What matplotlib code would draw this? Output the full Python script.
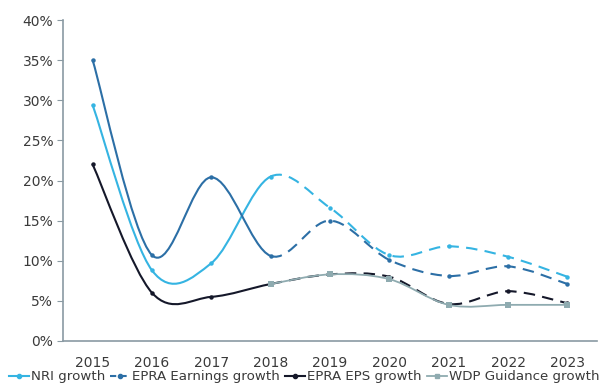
import numpy as np
import matplotlib
matplotlib.use("Agg")
from matplotlib import pyplot as plt
from matplotlib.path import Path
from matplotlib.patches import PathPatch
from matplotlib.lines import Line2D
from matplotlib.ticker import FuncFormatter

years = ["2015", "2016", "2017", "2018", "2019", "2020", "2021", "2022", "2023"]

nri_growth = [29.4, 8.8, 9.7, 20.5, 16.6, 10.7, 11.8, 10.5, 8.0]
epra_earnings_growth = [35.0, 10.7, 20.4, 10.6, 15.0, 10.1, 8.1, 9.3, 7.1]
epra_eps_growth = [22.0, 6.0, 5.5, 7.1, 8.3, 8.0, 4.6, 6.2, 4.7]
wdp_guidance_growth = [7.1, 8.3, 7.7, 4.5, 4.5, 4.5]
wdp_years = years[3:]

# index where the forecast (dashed) part starts
forecast_from = 3

text_col = "#3a3a3a"
axis_col = "#8a9aa3"


def smooth_segments(xs, ys):
    # cubic bezier pieces like a spreadsheet "smoothed line"
    pts = np.column_stack([xs, ys]).astype(float)
    n = len(pts)
    segs = []
    for i in range(n - 1):
        p0 = pts[max(i - 1, 0)]
        p1 = pts[i]
        p2 = pts[i + 1]
        p3 = pts[min(i + 2, n - 1)]
        c1 = p1 + (p2 - p0) / 6.0
        c2 = p2 - (p3 - p1) / 6.0
        segs.append((p1, c1, c2, p2))
    return segs


def path_from(segs):
    verts = [segs[0][0]]
    codes = [Path.MOVETO]
    for _, c1, c2, p2 in segs:
        verts += [c1, c2, p2]
        codes += [Path.CURVE4] * 3
    return Path(verts, codes)


def draw_series(ax, xs, ys, color, lw, split, marker, ms):
    ys = np.asarray(ys) / 100.0
    segs = smooth_segments(xs, ys)
    if split > 0:
        ax.add_patch(PathPatch(path_from(segs[:split]), fill=False,
                               edgecolor=color, lw=lw, capstyle="round"))
    if split < len(segs):
        ax.add_patch(PathPatch(path_from(segs[split:]), fill=False,
                               edgecolor=color, lw=lw, linestyle=(0, (5.5, 3.5))))
    ax.plot(xs, ys, linestyle="none", marker=marker, ms=ms, color=color,
            markeredgewidth=0)


fig = plt.figure(figsize=(6.08, 3.87), dpi=100)
ax = fig.add_axes([0.1036, 0.119, 0.8784, 0.829])

x = np.arange(len(years))
xw = np.arange(forecast_from, len(years))

c_nri = "#35b4e2"
c_earn = "#2c6fa6"
c_eps = "#15182a"
c_wdp = "#8fabb0"

draw_series(ax, x, nri_growth, c_nri, 1.5, forecast_from, "o", 3.2)
draw_series(ax, x, epra_earnings_growth, c_earn, 1.5, forecast_from, "o", 3.2)
draw_series(ax, x, epra_eps_growth, c_eps, 1.5, forecast_from, "o", 3.2)
draw_series(ax, xw, wdp_guidance_growth, c_wdp, 1.3, 99, "s", 4.5)

ax.set_xlim(-0.5, len(years) - 0.5)
ax.set_ylim(0, 0.40)
ax.set_xticks(x)
ax.set_xticklabels(years)
ax.set_yticks(np.arange(0, 0.41, 0.05))
ax.yaxis.set_major_formatter(FuncFormatter(lambda v, _: f"{v * 100:.0f}%"))

for s in ["top", "right"]:
    ax.spines[s].set_visible(False)
for s in ["left", "bottom"]:
    ax.spines[s].set_color(axis_col)
    ax.spines[s].set_linewidth(1.2)
ax.tick_params(axis="y", length=4, color=axis_col, labelsize=10,
               labelcolor=text_col, pad=3)
ax.tick_params(axis="x", length=0, labelsize=10, labelcolor=text_col, pad=11)

handles = [
    Line2D([], [], color=c_nri, lw=1.5, marker="o", ms=3),
    Line2D([], [], color=c_earn, lw=1.5, marker="o", ms=3, linestyle=(0, (3, 2))),
    Line2D([], [], color=c_eps, lw=1.5, marker="o", ms=3),
    Line2D([], [], color=c_wdp, lw=1.3, marker="s", ms=3.5),
]
labels = ["NRI growth", "EPRA Earnings growth", "EPRA EPS growth",
          "WDP Guidance growth"]
fig.legend(handles, labels, loc="lower center", bbox_to_anchor=(0.5, -0.015),
           ncol=4, frameon=False, fontsize=9.6, handlelength=1.5,
           handletextpad=0.15, columnspacing=0.4, labelcolor=text_col,
           borderpad=0.2)

fig.savefig("out.png", dpi=100)
